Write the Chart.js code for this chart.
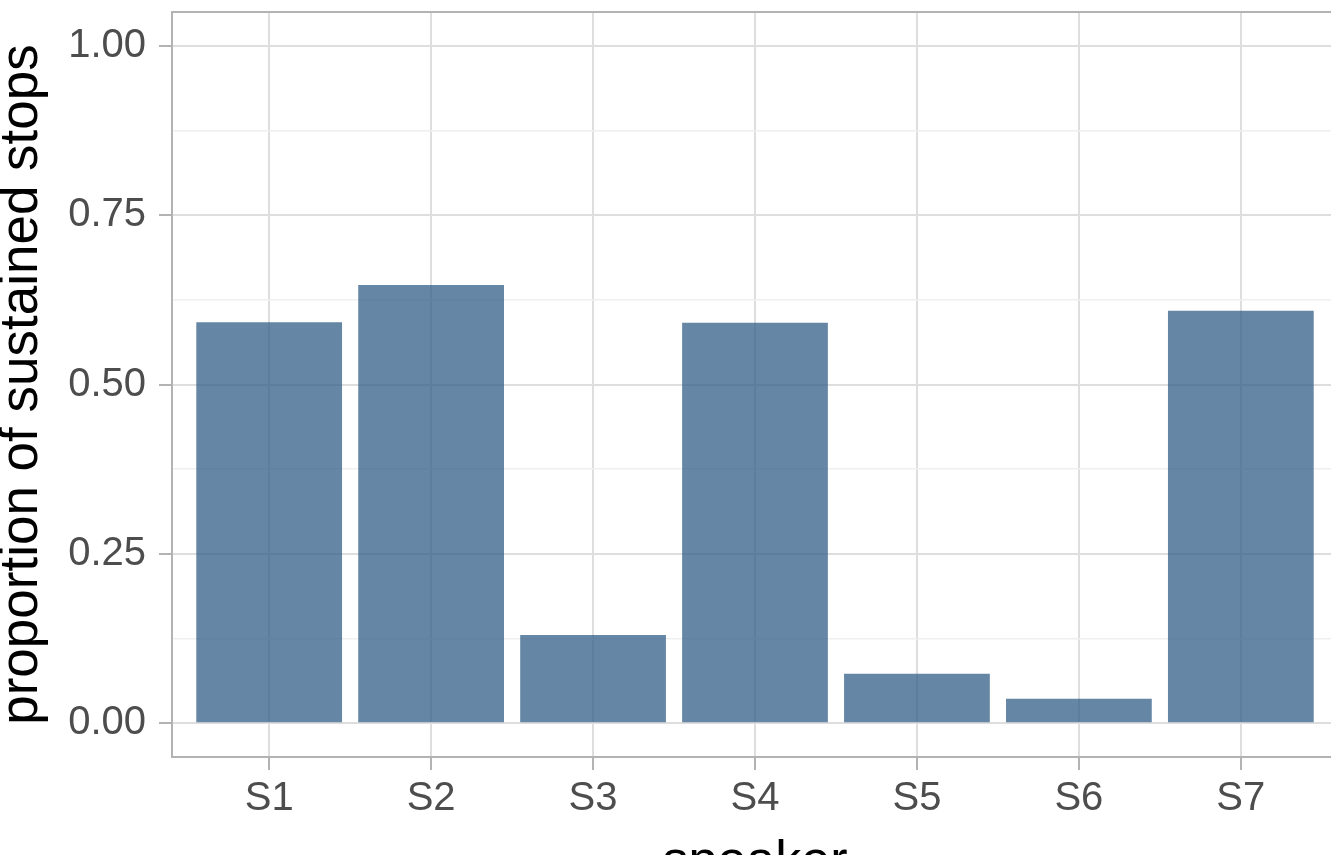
<!DOCTYPE html>
<html>
<head>
<meta charset="utf-8">
<script src="https://cdn.jsdelivr.net/npm/chart.js@4/dist/chart.umd.min.js"></script>
<style>
  html, body { margin: 0; padding: 0; background: #ffffff; overflow: hidden; }
  #wrap { position: relative; width: 1340px; height: 883px; }
</style>
</head>
<body>
<div id="wrap"><canvas id="chart" width="1340" height="883"></canvas></div>
<script>
// Speakers and the share of their stops that were sustained
const speakers = ['S1', 'S2', 'S3', 'S4', 'S5', 'S6', 'S7'];
const proportions = [0.592, 0.647, 0.130, 0.591, 0.073, 0.036, 0.609];

// Axis ticks: labelled majors and unlabelled minors between them
const yMajorTicks = [0, 0.25, 0.5, 0.75, 1];
const yMinorTicks = [0.125, 0.375, 0.625, 0.875];
const yTickLabels = ['0.00', '0.25', '0.50', '0.75', '1.00'];

const FONT = '"Liberation Sans", Arial, Helvetica, sans-serif';
const BORDER = '#b3b3b3';
const MAJOR_GRID = '#dedede';
const MINOR_GRID = '#efefef';

const isMajor = v => yMajorTicks.some(t => Math.abs(t - v) < 1e-9);

// Frame the whole panel, like a ggplot panel border
const panelBorder = {
  id: 'panelBorder',
  afterDatasetsDraw(chart) {
    const { ctx, chartArea: a } = chart;
    ctx.save();
    ctx.strokeStyle = BORDER;
    ctx.lineWidth = 2;
    ctx.strokeRect(a.left, a.top, a.right - a.left, a.bottom - a.top);
    ctx.restore();
  }
};

new Chart(document.getElementById('chart'), {
  type: 'bar',
  data: {
    datasets: [{
      data: speakers.map((s, i) => ({ x: i + 1, y: proportions[i] })),
      backgroundColor: 'rgba(50, 94, 133, 0.75)',
      borderWidth: 0,
      barPercentage: 0.9,
      categoryPercentage: 1.0
    }]
  },
  options: {
    responsive: false,
    animation: false,
    events: [],
    layout: { padding: { top: 12, right: 2, left: 0, bottom: 0 } },
    plugins: { legend: { display: false }, tooltip: { enabled: false } },
    scales: {
      x: {
        type: 'linear',
        min: 0.4,
        max: 7.6,
        offset: false,
        afterBuildTicks: axis => { axis.ticks = speakers.map((s, i) => ({ value: i + 1 })); },
        afterFit: axis => {
          axis.height = 126;
          axis.paddingLeft = 0;
          axis.paddingRight = 0;
        },
        grid: {
          offset: false,
          color: MAJOR_GRID,
          lineWidth: 2,
          tickColor: BORDER,
          tickLength: 13,
          drawOnChartArea: true
        },
        border: { color: BORDER, width: 2 },
        ticks: {
          autoSkip: false,
          maxRotation: 0,
          padding: 5,
          color: '#4d4d4d',
          font: { family: FONT, size: 40 },
          callback: v => speakers[Math.round(v) - 1]
        },
        title: {
          display: true,
          text: 'speaker',
          color: '#000000',
          font: { family: FONT, size: 52, lineHeight: 0.8 },
          padding: 0
        }
      },
      y: {
        type: 'linear',
        min: -0.05,
        max: 1.05,
        afterBuildTicks: axis => {
          axis.ticks = yMajorTicks.concat(yMinorTicks).sort((a, b) => a - b).map(v => ({ value: v }));
        },
        afterFit: axis => {
          axis.width = 172;
          axis.paddingTop = 0;
          axis.paddingBottom = 0;
        },
        grid: {
          color: ctx => isMajor(ctx.tick.value) ? MAJOR_GRID : MINOR_GRID,
          lineWidth: ctx => isMajor(ctx.tick.value) ? 2 : 1.5,
          tickColor: ctx => isMajor(ctx.tick.value) ? BORDER : 'rgba(0,0,0,0)',
          tickLength: 13
        },
        border: { color: BORDER, width: 2 },
        ticks: {
          autoSkip: false,
          padding: 13,
          color: '#4d4d4d',
          font: { family: FONT, size: 40 },
          callback: v => {
            const i = yMajorTicks.findIndex(t => Math.abs(t - v) < 1e-9);
            return i >= 0 ? yTickLabels[i] : '';
          }
        },
        title: {
          display: true,
          text: 'proportion of sustained stops',
          color: '#000000',
          font: { family: FONT, size: 53, lineHeight: 0.86 },
          padding: 0
        }
      }
    }
  },
  plugins: [panelBorder]
});
</script>
</body>
</html>
